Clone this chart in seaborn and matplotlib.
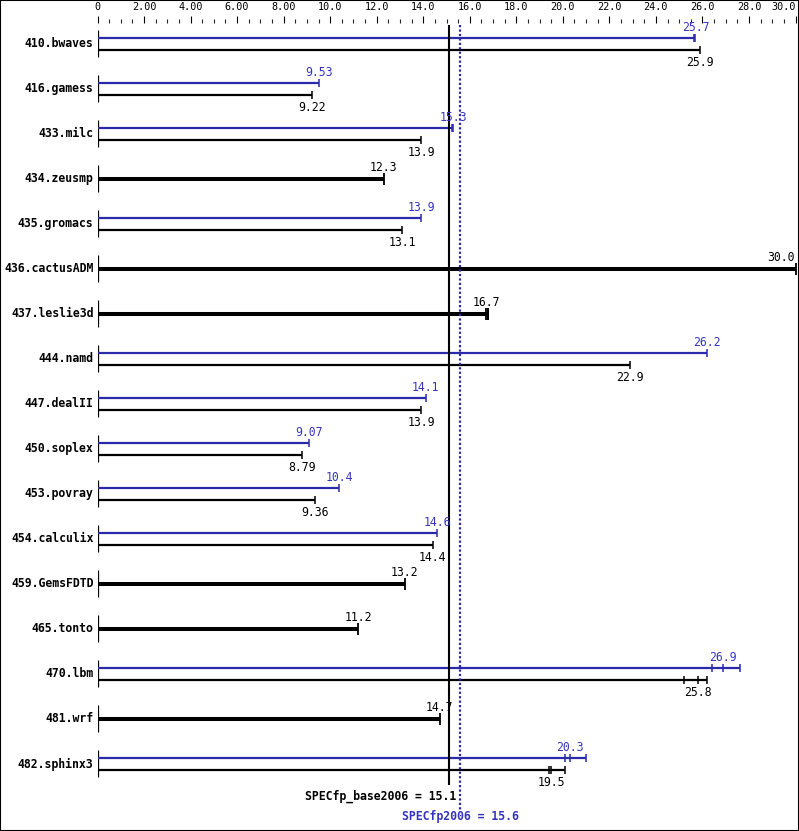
import numpy as np
import pandas as pd
import matplotlib
matplotlib.use("Agg")
import matplotlib.pyplot as plt
import seaborn as sns
from matplotlib.patches import Rectangle


benchmarks = ["410.bwaves", "416.gamess", "433.milc", "434.zeusmp", "435.gromacs",
              "436.cactusADM", "437.leslie3d", "444.namd", "447.dealII", "450.soplex",
              "453.povray", "454.calculix", "459.GemsFDTD", "465.tonto", "470.lbm",
              "481.wrf", "482.sphinx3"]

base_vals = [25.9, 9.22, 13.9, 12.3, 13.1, 30.0, 16.7, 22.9, 13.9, 8.79, 9.36,
             14.4, 13.2, 11.2, 25.8, 14.7, 19.5]
base_labels = ["25.9", "9.22", "13.9", "12.3", "13.1", "30.0", "16.7", "22.9", "13.9",
               "8.79", "9.36", "14.4", "13.2", "11.2", "25.8", "14.7", "19.5"]
peak_vals = [25.7, 9.53, 15.3, None, 13.9, None, None, 26.2, 14.1, 9.07, 10.4,
             14.6, None, None, 26.9, None, 20.3]
peak_labels = ["25.7", "9.53", "15.3", None, "13.9", None, None, "26.2", "14.1",
               "9.07", "10.4", "14.6", None, None, "26.9", None, "20.3"]

# individual run results (tick marks on the bars)
base_runs = [[25.9], [9.22], [13.9], [12.3], [13.1], [30.0], [16.7, 16.8, 16.8],
             [22.9], [13.9], [8.79], [9.36], [14.4], [13.2], [11.2],
             [25.2, 25.8, 26.2], [14.7], [19.4, 19.5, 20.1]]
peak_runs = [[25.65, 25.7], [9.53], [15.25, 15.3], None, [13.9], None, None, [26.2],
             [14.1], [9.07], [10.4], [14.6], None, None,
             [26.4, 26.9, 27.6], None, [20.1, 20.3, 21.0]]

base_score = 15.1
peak_score = 15.6

tick_vals = [0, 2, 4, 6, 8, 10, 12, 14, 16, 18, 20, 22, 24, 26, 28, 30]
tick_labels = ["0", "2.00", "4.00", "6.00", "8.00", "10.0", "12.0", "14.0", "16.0",
               "18.0", "20.0", "22.0", "24.0", "26.0", "28.0", "30.0"]

BLUE = "#2a2aaa"
BLUE_TXT = "#3535c0"
W, H = 799, 831

sns.set_style("white")
plt.rcParams["font.family"] = ["DejaVu Sans Mono"]

fig = plt.figure(figsize=(W / 100, H / 100), dpi=100)
x0, x1 = 97.5, 795.5
top = 22.5
ax = fig.add_axes([x0 / W, 0, (x1 - x0) / W, (H - top) / H])
ax.set_xlim(0, 30)
ax.set_ylim(H, top)  # y in pixel rows from the top
for s in ax.spines.values():
    s.set_visible(False)

ax.xaxis.tick_top()
ax.set_xticks(tick_vals)
ax.set_xticklabels(tick_labels, fontsize=7.3)
ax.set_xticks(np.arange(0, 30.01, 0.5), minor=True)
ax.tick_params(axis="x", which="major", direction="out", length=5, width=0.8, pad=2.5,
               top=True, bottom=False, colors="black")
ax.tick_params(axis="x", which="minor", direction="out", length=2.6, width=0.8,
               top=True, bottom=False)
ax.tick_params(axis="y", left=False, labelleft=False)
ax.get_xticklabels()[-1].set_horizontalalignment("right")
ax.get_xticklabels()[-1].set_x(30.12)

tick_rows = []
for i, name in enumerate(benchmarks):
    cy = 44 + 45 * i
    ax.vlines(0, cy - 13.5, cy + 13.5, color="black", lw=0.9)
    ax.text(-0.17, cy, name, ha="right", va="center", fontsize=8.3,
            fontweight="bold", color="black")
    if peak_vals[i] is None:
        end = max(base_runs[i])
        ax.hlines(cy, 0, end, color="black", lw=2.9)
        for r in base_runs[i]:
            tick_rows.append({"x": r, "y": cy, "kind": "solo"})
        if base_vals[i] >= 29.5:
            ax.text(base_vals[i] - 0.02, cy - 11, base_labels[i], ha="right",
                    va="center", fontsize=8.3, color="black")
        else:
            ax.text(base_vals[i], cy - 11, base_labels[i], ha="center", va="center",
                    fontsize=8.3, color="black")
    else:
        yb = cy - 6.3
        yk = cy + 6.3
        ax.hlines(yb, 0, max(peak_runs[i]), color=BLUE, lw=1.6)
        ax.hlines(yk, 0, max(base_runs[i]), color="black", lw=1.6)
        for r in peak_runs[i]:
            tick_rows.append({"x": r, "y": yb, "kind": "peak"})
        for r in base_runs[i]:
            tick_rows.append({"x": r, "y": yk, "kind": "base"})
        ax.text(peak_vals[i], yb - 10, peak_labels[i], ha="center", va="center",
                fontsize=8.3, color=BLUE_TXT)
        ax.text(base_vals[i], yk + 12, base_labels[i], ha="center", va="center",
                fontsize=8.3, color="black")

ticks = pd.DataFrame(tick_rows)
sns.scatterplot(data=ticks[ticks.kind == "peak"], x="x", y="y", marker="|", s=26,
                color=BLUE, linewidth=1.1, ax=ax, legend=False)
sns.scatterplot(data=ticks[ticks.kind == "base"], x="x", y="y", marker="|", s=26,
                color="black", linewidth=1.1, ax=ax, legend=False)
sns.scatterplot(data=ticks[ticks.kind == "solo"], x="x", y="y", marker="|", s=85,
                color="black", linewidth=1.3, ax=ax, legend=False)
ax.set_xlabel("")
ax.set_ylabel("")

# overall scores
ax.vlines(base_score, 25, 785, color="black", lw=1.5)
ax.vlines(peak_score, 25, 810, color=BLUE, lw=1.6, linestyles=(0, (1, 1)))
ax.text(15.4, 796, "SPECfp_base2006 = 15.1", ha="right", va="center",
        fontsize=8.3, fontweight="bold", color="black")
ax.text(peak_score, 817, "SPECfp2006 = 15.6", ha="center", va="center",
        fontsize=8.3, fontweight="bold", color=BLUE_TXT)

fig.add_artist(Rectangle((0, 0), 1, 1, transform=fig.transFigure, fill=False,
                         lw=1.5, ec="black"))

fig.savefig("out.png", dpi=100)
